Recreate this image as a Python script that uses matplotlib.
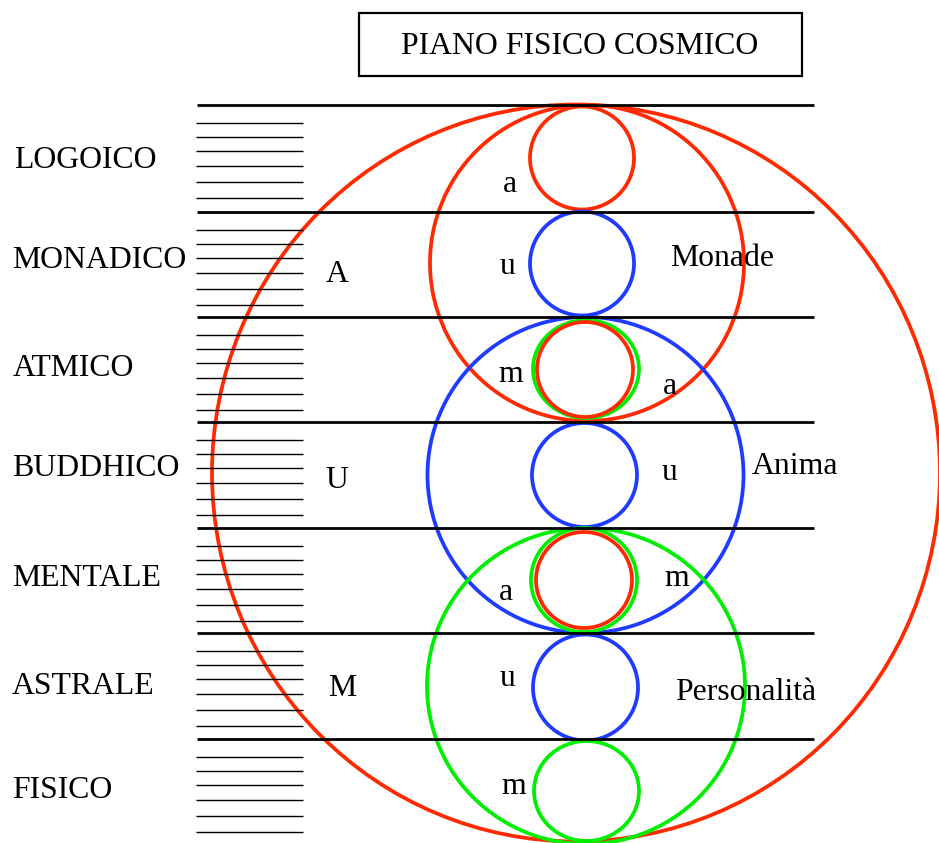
import matplotlib
matplotlib.use("Agg")
import matplotlib.pyplot as plt
from matplotlib.patches import Ellipse, Rectangle

W, H = 939, 843

# ---- data ----
title = "PIANO FISICO COSMICO"
planes = ["LOGOICO", "MONADICO", "ATMICO", "BUDDHICO", "MENTALE", "ASTRALE", "FISICO"]
plane_label_x = [14, 12, 13, 12, 12, 12, 12]
plane_label_y = [158, 258, 366, 466, 577, 684, 789]
band_tops = [105, 211.5, 316.5, 421.5, 528, 633, 739]
sub_offsets = [18, 32, 46, 61, 77, 93]

# circles: centre, size, colour
circle_cx = [576, 587, 585.5, 586, 582, 582, 586, 585, 584.5, 584, 584, 585.5, 586.5]
circle_cy = [473, 263, 475, 686, 158, 263.5, 369, 369.5, 475, 580, 580, 687.5, 791]
circle_w = [728, 314, 316, 318, 104, 104, 106, 96, 105, 106, 96, 105, 105]
circle_h = [737, 316, 316, 316, 103, 104, 98, 95, 104, 104, 96, 106, 100]
circle_col = ["red", "red", "blue", "green", "red", "blue", "green", "red",
              "blue", "green", "red", "blue", "green"]

letters = ["a", "u", "m", "a", "u", "m", "a", "u", "m", "A", "U", "M",
           "Monade", "Anima", "Personalità"]
letters_x = [510, 507, 511, 670, 669, 677, 506, 507, 514, 337, 337, 342, 722, 795, 746]
letters_y = [183, 265, 372, 385, 470, 577, 590, 677, 785, 272, 479, 687, 256, 465, 690]

colours = {"red": "#ff2a00", "blue": "#1f3bff", "green": "#00ee00"}

# ---- figure ----
fig = plt.figure(figsize=(W / 100, H / 100), dpi=100)
ax = fig.add_axes([0, 0, 1, 1])
ax.set_xlim(0, W)
ax.set_ylim(H, 0)
ax.axis("off")

serif = ["Liberation Serif", "DejaVu Serif"]
fs = 22.9
dy = 2  # visual centring of glyphs

# title box
ax.add_patch(Rectangle((358.5, 12.5), 443.5, 63.5, fill=False, ec="black", lw=1.6))
ax.text(580, 44 + dy, title, family=serif, fontsize=fs, ha="center", va="center")

# horizontal lines
for t in band_tops:
    ax.plot([197, 814], [t, t], color="black", lw=2.0, solid_capstyle="butt")
    for o in sub_offsets:
        ax.plot([196, 303], [t + o, t + o], color="black", lw=1.0, solid_capstyle="butt")

# circles
for cx, cy, w, h, c in zip(circle_cx, circle_cy, circle_w, circle_h, circle_col):
    ax.add_patch(Ellipse((cx, cy), w, h, fill=False, ec=colours[c], lw=2.7))

# plane labels
for name, x, y in zip(planes, plane_label_x, plane_label_y):
    ax.text(x, y + dy, name, family=serif, fontsize=fs, ha="left", va="center")

# letters
for s, x, y in zip(letters, letters_x, letters_y):
    ax.text(x, y + dy, s, family=serif, fontsize=fs, ha="center", va="center")

fig.savefig("out.png", dpi=100)
